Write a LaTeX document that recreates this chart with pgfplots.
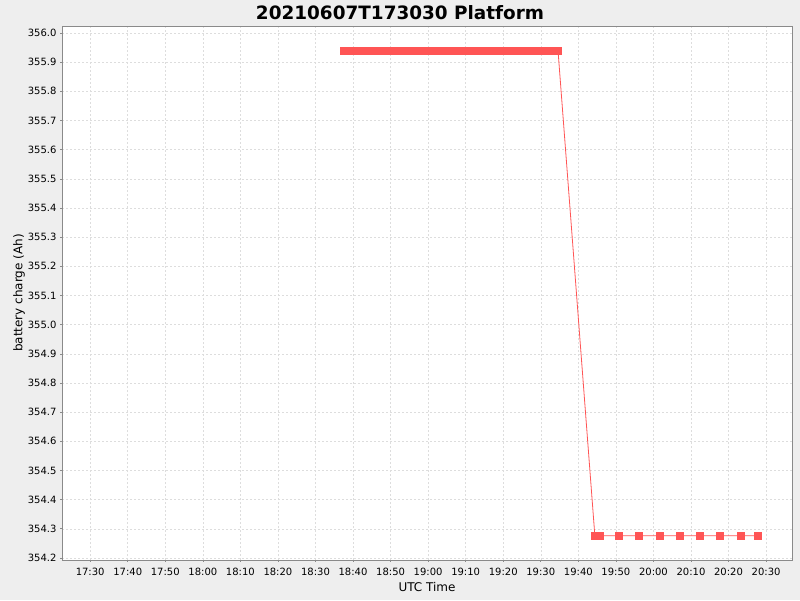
\documentclass[border=0pt]{standalone}
\usepackage{fontspec}
\setmainfont{DejaVu Sans}
\usepackage{pgfplots}
\pgfplotsset{compat=1.18}
\definecolor{bgc}{HTML}{EEEEEE}
\definecolor{ser}{HTML}{FF5555}
\definecolor{gridc}{HTML}{DDDDDD}
\definecolor{framec}{HTML}{8A8A8A}
\begin{document}
\begin{tikzpicture}[x=1pt,y=1pt]
\fill[bgc] (0,0) rectangle (800,600);
\begin{axis}[
  at={(62pt,40pt)}, anchor=south west,
  scale only axis, width=730pt, height=534pt,
  xmin=-7.5, xmax=186.9, ymin=354.193, ymax=356.024,
  axis line style={framec, line width=0.8pt},
  axis background/.style={fill=white},
  xtick={0,10,...,180},
  xticklabels={17:30,17:40,17:50,18:00,18:10,18:20,18:30,18:40,18:50,19:00,19:10,19:20,19:30,19:40,19:50,20:00,20:10,20:20,20:30},
  ytick={354.2,354.3,...,356.05},
  yticklabel style={/pgf/number format/.cd, fixed, fixed zerofill, precision=1, assume math mode=true},
  /pgf/number format/assume math mode=true,
  tick label style={font=\fontsize{10}{12}\selectfont, black},
  xticklabel style={yshift=-3pt},
  tick align=outside, tick pos=left, major tick length=2pt,
  tick style={framec, line width=0.6pt},
  grid=major, major grid style={gridc, dash pattern=on 2pt off 2pt, line width=0.5pt},
  xlabel={UTC Time}, ylabel={battery charge (Ah)},
  label style={font=\fontsize{12}{14}\selectfont},
  xlabel style={yshift=1pt},
  ylabel style={yshift=-4pt},
  title={\textbf{20210607T173030 Platform}},
  title style={font=\fontsize{18.4}{20}\selectfont, yshift=-3pt, xshift=-27pt},
  clip=false,
]
\addplot[ser, line width=0.8pt, mark=square*, mark size=3.5pt, mark options={fill=ser, draw=ser}] coordinates {
(67.6,355.938)(68.6,355.938)(69.6,355.938)(70.6,355.938)(71.6,355.938)(72.6,355.938)(73.6,355.938)(74.6,355.938)(75.6,355.938)(76.6,355.938)
(77.6,355.938)(78.6,355.938)(79.6,355.938)(80.6,355.938)(81.6,355.938)(82.6,355.938)(83.6,355.938)(84.6,355.938)(85.6,355.938)(86.6,355.938)
(87.6,355.938)(88.6,355.938)(89.6,355.938)(90.6,355.938)(91.6,355.938)(92.6,355.938)(93.6,355.938)(94.6,355.938)(95.6,355.938)(96.6,355.938)
(97.6,355.938)(98.6,355.938)(99.6,355.938)(100.6,355.938)(101.6,355.938)(102.6,355.938)(103.6,355.938)(104.6,355.938)(105.6,355.938)(106.6,355.938)
(107.6,355.938)(108.6,355.938)(109.6,355.938)(110.6,355.938)(111.6,355.938)(112.6,355.938)(113.6,355.938)(114.6,355.938)(115.6,355.938)(116.6,355.938)
(117.6,355.938)(118.6,355.938)(119.6,355.938)(120.6,355.938)(121.6,355.938)(122.6,355.938)(123.6,355.938)(124.6,355.938)
(134.4,354.276)(135.8,354.276)(140.9,354.276)(146.2,354.276)(151.7,354.276)(157.1,354.276)(162.5,354.276)(167.8,354.276)(173.3,354.276)(177.9,354.276)
};
\end{axis}
\end{tikzpicture}
\end{document}
